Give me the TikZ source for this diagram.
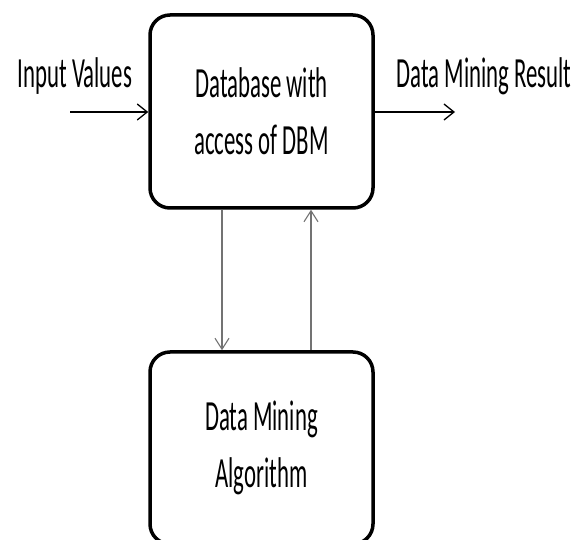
\documentclass[tikz,border=0pt]{standalone}
\usepackage{fontspec}
\setmainfont[FakeStretch=0.53]{Carlito}
\usetikzlibrary{arrows.meta}
\begin{document}
\begin{tikzpicture}[x=1pt,y=-1pt,
  box/.style={draw=black,line width=3.5pt,rounded corners=20pt,minimum width=223pt,align=center,inner sep=0pt,font=\fontsize{43}{57}\selectfont},
  lbl/.style={anchor=base,inner sep=0pt,font=\fontsize{43}{57}\selectfont},
  harrow/.style={line width=1.5pt,-{Straight Barb[length=10pt,width=16pt,line width=1.3pt]}},
  varrow/.style={draw=black!55,line width=1.1pt,-{Straight Barb[length=11pt,width=14pt,line width=1.1pt]}}]
\useasboundingbox (0,0) rectangle (587,540);
\begin{scope}
\clip (0,0) rectangle (587,540);
\node[box,minimum height=193pt] (db) at (261.5,111.5) {Database with\\access of DBM};
\node[box,minimum height=192pt] (alg) at (261.5,448) {Data Mining\\Algorithm};
\end{scope}
\node[lbl] (in) at (75,88) {Input Values};
\node[lbl] (out) at (484,88) {Data Mining Result};
\coordinate (inS) at (70,112);
\coordinate (outE) at (455,112);
\draw[harrow] (inS) -- (inS -| db.west);
\draw[harrow] (outE -| db.east) -- (outE);
\draw[varrow] (222,0 |- db.south) -- (222,0 |- alg.north);
\draw[varrow] (311,0 |- alg.north) -- (311,0 |- db.south);
\end{tikzpicture}
\end{document}
